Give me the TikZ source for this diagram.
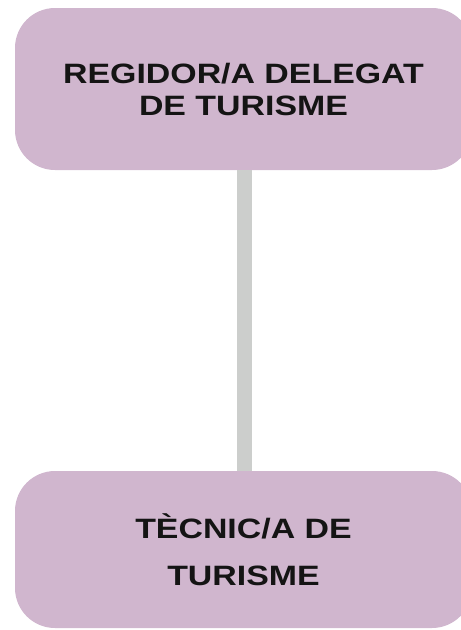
\documentclass[tikz,border=0pt]{standalone}
\usepackage{fontspec}
\setmainfont{Liberation Sans}
\newfontfamily\widefont[FakeStretch=1.21]{Liberation Sans}
\definecolor{boxfill}{RGB}{208,182,206}
\definecolor{linkgray}{RGB}{204,206,204}
\begin{document}
\begin{tikzpicture}[x=1pt,y=-1pt,
  rolebox/.style={fill=boxfill,draw=none,rounded corners=40pt,
    minimum width=457pt,inner sep=0pt,align=center,
    font=\widefont\bfseries\fontsize{28}{32}\selectfont,text=black!92},
  link/.style={draw=linkgray,line width=15.5pt}]
\useasboundingbox (0,0) rectangle (461,630);
\clip (0,0) rectangle (461,630);
\node[rolebox,minimum height=162pt] (regidor) at (243.5,89) {REGIDOR/A DELEGAT\\DE TURISME};
\node[rolebox,minimum height=157pt,font=\widefont\bfseries\fontsize{28}{47}\selectfont] (tecnic) at (243.5,549.5) {TÈCNIC/A DE\\TURISME};
\draw[link] ([xshift=1pt]regidor.south) -- ([xshift=1pt]tecnic.north);
\end{tikzpicture}
\end{document}
